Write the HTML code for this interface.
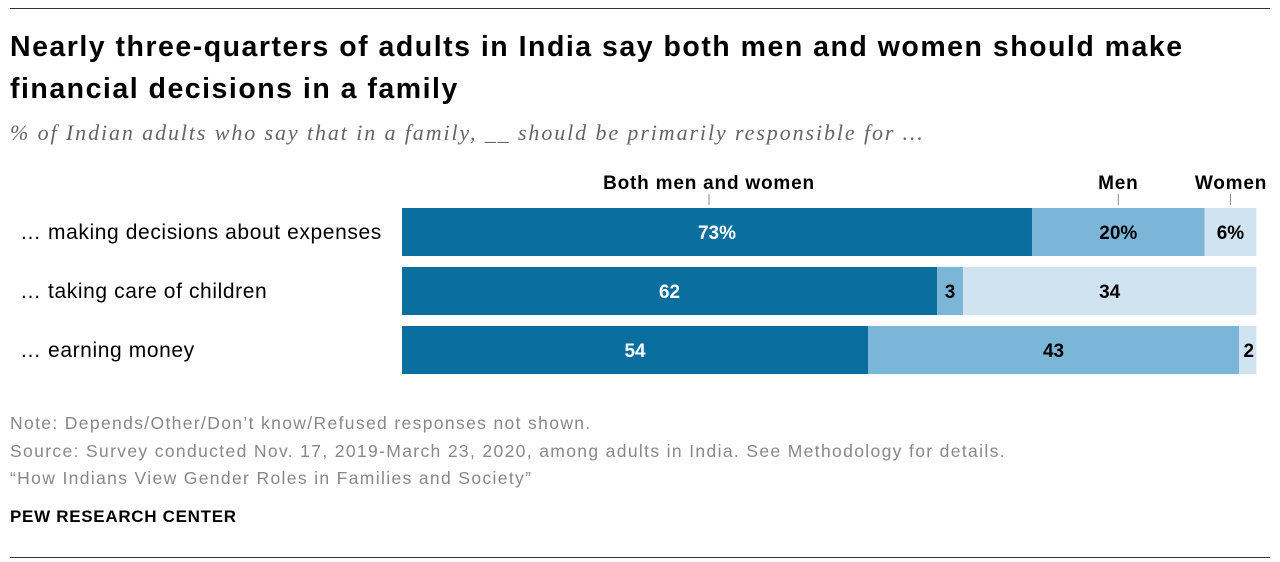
<!DOCTYPE html>
<html><head><meta charset="utf-8">
<style>
body{margin:0;width:1280px;height:562px;background:#fff;font-family:"Liberation Sans",sans-serif;position:relative;overflow:hidden}
.abs{position:absolute}
.title{left:10px;top:26px;font-size:28.5px;font-weight:bold;color:#000;line-height:42px;width:1220px;letter-spacing:1.5px}
.sub{left:10px;top:120px;font-family:"Liberation Serif",serif;font-style:italic;font-size:22px;color:#666;letter-spacing:1.9px;white-space:nowrap}
.note{left:10px;font-size:17.5px;color:#888;letter-spacing:1.35px;white-space:nowrap}
</style></head><body>
<div class="abs" style="left:10px;top:8px;width:1260px;height:1px;background:#333"></div>
<div class="abs title">Nearly three-quarters of adults in India say both men and women should make financial decisions in a family</div>
<div class="abs sub">% of Indian adults who say that in a family, __ should be primarily responsible for …</div>
<svg class="abs" style="left:0;top:160px" width="1280" height="230" id="chart"></svg>
<div class="abs note" style="top:413px">Note: Depends/Other/Don’t know/Refused responses not shown.</div>
<div class="abs note" style="top:441px">Source: Survey conducted Nov. 17, 2019-March 23, 2020, among adults in India. See Methodology for details.</div>
<div class="abs note" style="top:468px">“How Indians View Gender Roles in Families and Society”</div>
<div class="abs" style="left:10px;top:507px;font-size:17px;font-weight:bold;color:#000;letter-spacing:0.7px">PEW RESEARCH CENTER</div>
<div class="abs" style="left:10px;top:557px;width:1260px;height:1px;background:#333"></div>
<script>
const categories=["… making decisions about expenses","… taking care of children","… earning money"];
const both=[73,62,54];
const men=[20,3,43];
const women=[6,34,2];
const labelsBoth=["73%","62","54"];
const labelsMen=["20%","3","43"];
const labelsWomen=["6%","34","2"];
const seriesNames=["Both men and women","Men","Women"];
const svg=document.getElementById('chart');
const NS="http://www.w3.org/2000/svg";
const x0=402, scale=8.63, top0=48, pitch=59, bh=48;
const xs=v=>x0+v*scale;
const colors=["#0a6e9e","#7bb5d7","#cfe3f0"];
const txtCol=["#fff","#000","#000"];
function el(t,a){const e=document.createElementNS(NS,t);for(const k in a)e.setAttribute(k,a[k]);svg.appendChild(e);return e;}
const series=[both,men,women], labs=[labelsBoth,labelsMen,labelsWomen];
categories.forEach((c,i)=>{
  const y=top0+i*pitch;
  const t=el('text',{x:20,y:y+bh/2+7,'font-size':21,'letter-spacing':0.6,fill:'#000'});t.textContent=c;
  
  
  let cum=0;
  series.forEach((s,j)=>{
    const v=s[i];
    const r=el('rect',{x:xs(cum),y:y,width:v*scale,height:bh,fill:colors[j]});
    
    
    let cx=xs(cum+v/2);
    if(v<4) cx=xs(cum+v/2)+(j==2?1:0);
    const lt=el('text',{x:cx,y:y+bh/2+7,'font-size':19,'font-weight':'bold','text-anchor':'middle',fill:txtCol[j]});
    lt.textContent=labs[j][i];
    
    
    cum+=v;
  });
});
let cum=0;
series.forEach((s,j)=>{
  const cx=xs(cum+s[0]/2)-(j==0?8:0); cum+=s[0];
  const t=el('text',{x:j==2?1231:cx,y:29,'font-size':19,'letter-spacing':0.8,'font-weight':'bold','text-anchor':'middle',fill:'#000'});
  t.textContent=seriesNames[j];
  
  
  const l=el('line',{x1:cx,x2:cx,y1:34,y2:45,stroke:'#888','stroke-width':1});
  
  
});
</script>
</body></html>
